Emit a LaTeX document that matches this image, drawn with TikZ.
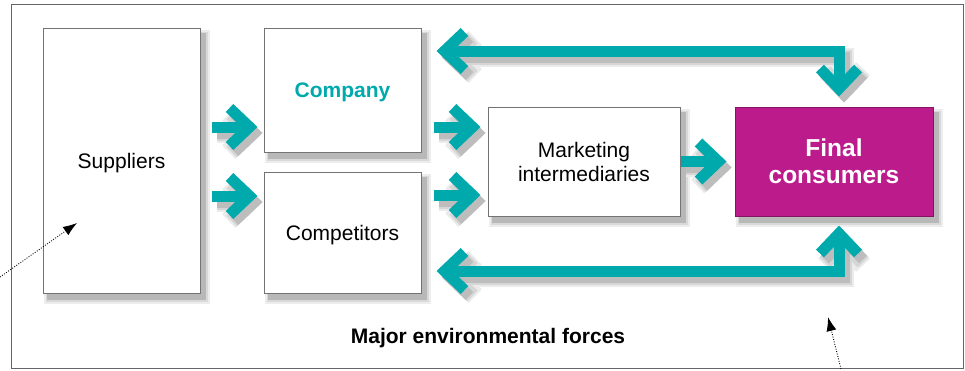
\documentclass[tikz,border=0pt]{standalone}
\usepackage{fontspec}
\setmainfont{Liberation Sans}
\usetikzlibrary{arrows.meta,calc}
\definecolor{tealc}{RGB}{0,169,172}
\definecolor{magc}{RGB}{188,27,140}
\begin{document}
\begin{tikzpicture}[x=1pt,y=-1pt,
  shbox/.style={
    preaction={fill=black!7, draw=black!7, line width=9pt, transform canvas={shift={(5pt,-6pt)}}},
    preaction={fill=black!15, draw=black!15, line width=5pt, transform canvas={shift={(5pt,-6pt)}}},
    preaction={fill=black!28, draw=black!28, line width=1.5pt, transform canvas={shift={(5pt,-6pt)}}}},
  box/.style={shbox, draw=black!55, line width=1pt, fill=white, inner sep=0pt, align=center},
  lbl/.style={font=\fontsize{21}{24}\selectfont},
  tipb/.tip={Straight Barb[length=20pt,width=38pt,sharp]},
  arr/.style={draw=tealc, line width=11pt,
    preaction={draw=black!8, line width=19pt, transform canvas={shift={(5pt,-6pt)}}},
    preaction={draw=black!16, line width=15pt, transform canvas={shift={(5pt,-6pt)}}},
    preaction={draw=black!26, line width=11pt, transform canvas={shift={(5pt,-6pt)}}}},
  dotarr/.style={line width=0.9pt, dash pattern=on 0.9pt off 1.6pt, -{Latex[length=14pt,width=10pt]}}
]
\useasboundingbox (0,0) rectangle (965,370);
\draw[black!60, line width=0.9pt] (11,4) rectangle (963,368);

\node[box, lbl, text depth=0pt, minimum width=157pt, minimum height=265pt] (sup) at (121.5,160.5) {Suppliers};
\node[box, minimum width=157pt, minimum height=124pt, text depth=0pt, font=\fontsize{21}{24}\selectfont\bfseries, text=tealc] (company) at (342.5,90) {Company};
\node[box, lbl, text depth=0pt, minimum width=157pt, minimum height=121pt] (comp) at (342.5,232.5) {Competitors};
\node[box, lbl, minimum width=192pt, minimum height=109pt] (mkt) at (584,161.5) {Marketing\\intermediaries};
\node[box, draw=magc!70!black, fill=magc, text=white, minimum width=198pt, minimum height=109pt,
  font=\fontsize{24.5}{27}\selectfont\bfseries] (fin) at (834,161.5) {Final\\consumers};

\node[font=\fontsize{21}{24}\selectfont\bfseries] (env) at (488,338) {Major environmental forces};

% arrows
\draw[arr, -tipb] ($(sup.east |- 0,127)+(11,0)$) -- ($(company.west |- 0,127)+(-6,0)$);
\draw[arr, -tipb] ($(sup.east |- 0,196)+(11,0)$) -- ($(comp.west |- 0,196)+(-6,0)$);
\draw[arr, -tipb] ($(company.east |- 0,127)+(12,0)$) -- ($(mkt.west |- 0,127)+(-7,0)$);
\draw[arr, -tipb] ($(comp.east |- 0,195)+(12,0)$) -- ($(mkt.west |- 0,195)+(-7,0)$);
\draw[arr, -tipb] (mkt.east) -- ($(fin.west)+(-8,0)$);

\coordinate (tr) at (839,51);
\coordinate (br) at (839,271);
\draw[arr, tipb-tipb] ($(company.east |- tr)+(15,0)$) -- (tr) -- ($(fin.north)+(5,-10)$);
\draw[arr, tipb-tipb] ($(comp.east |- br)+(15,0)$) -- (br) -- ($(fin.south)+(5,9)$);

% dotted pointers
\coordinate (d1s) at (0,277);
\coordinate (d1e) at (77,223);
\coordinate (d2s) at (841,369);
\coordinate (d2e) at (828,317);
\draw[dotarr] (d1s) -- (d1e);
\draw[dotarr] (d2s) -- (d2e);
\end{tikzpicture}
\end{document}
